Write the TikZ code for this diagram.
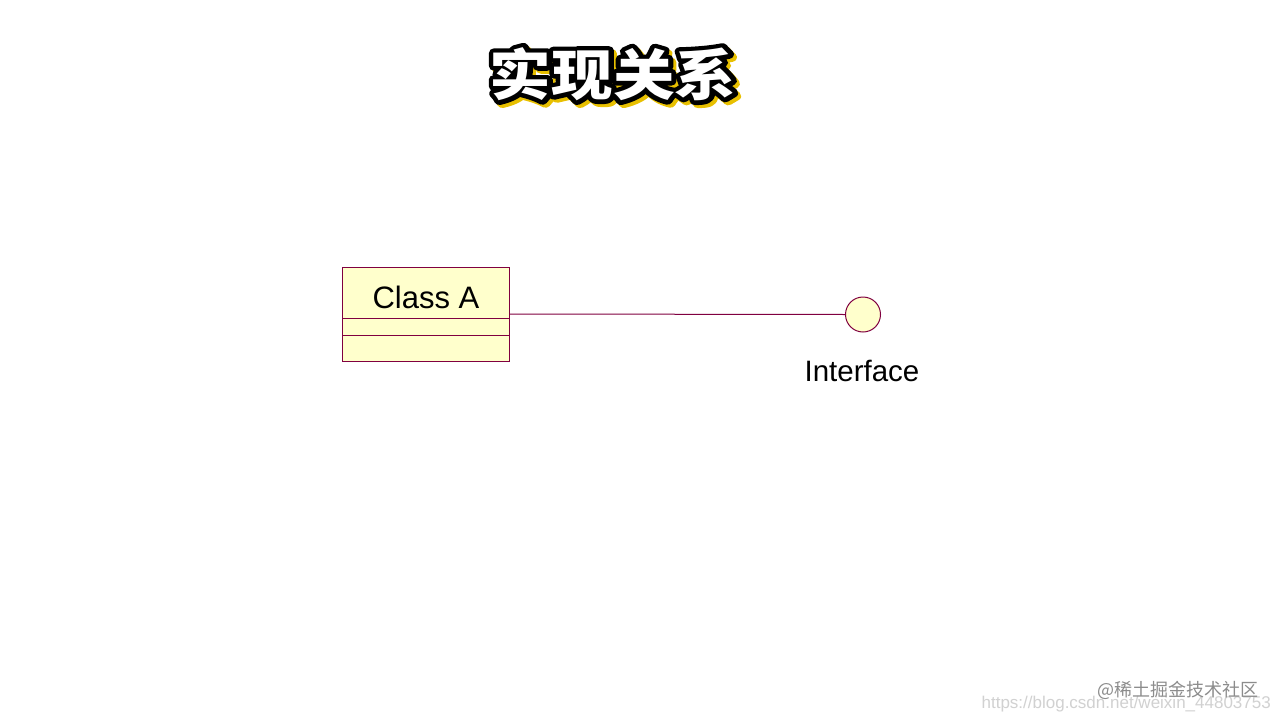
\documentclass[tikz,border=0pt]{standalone}
\usepackage{fontspec}
\setmainfont{Liberation Sans}
\newfontfamily\cjk{Noto Sans CJK SC}
\definecolor{umlborder}{HTML}{800040}
\definecolor{umlfill}{HTML}{FFFFCC}
\definecolor{shadowyellow}{HTML}{E8C000}
\newcommand\titlestr{实现关系}
\newcommand\strokeon[1]{\special{pdf:literal direct 2 Tr #1 w 1 j}}
\newcommand\strokeoff{\special{pdf:literal direct 0 Tr}}
\begin{document}
\begin{tikzpicture}[x=1pt,y=-1pt,
  umlline/.style={draw=umlborder,line width=1pt},
  titletext/.style={font=\cjk\bfseries\fontsize{55}{55}\selectfont,inner sep=0pt}]
\useasboundingbox[fill=white] (0,0) rectangle (1280,720);
% title: yellow shadow, black outline, white face
\node[titletext] (titleshadow) at (616,77) {\scalebox{1.12}[1]{\color{shadowyellow}\strokeon{9}\titlestr\strokeoff}};
\node[titletext] (titleoutline) at (613,74) {\scalebox{1.12}[1]{\color{black}\strokeon{9}\titlestr\strokeoff}};
\node[titletext] (title) at (613,74) {\scalebox{1.12}[1]{\color{white}\strokeoff\titlestr}};
% class box
\node[umlline,fill=umlfill,minimum width=167pt,minimum height=94pt,inner sep=0pt,anchor=north west] (classA) at (342,267) {};
\draw[umlline] (342,318) -- (509,318);
\draw[umlline] (342,335) -- (509,335);
\node[anchor=base,font=\fontsize{31}{31}\selectfont,inner sep=0pt] (classname) at (426,308) {Class A};
% interface
\node[circle,umlline,fill=umlfill,minimum size=35pt,inner sep=0pt] (iface) at (863,314.5) {};
\coordinate (lineStart) at (509,314);
\draw[umlline] (lineStart) -- (iface.west);
\node[anchor=base,font=\fontsize{29.5}{29.5}\selectfont,inner sep=0pt] (ifacelabel) at (862,381) {Interface};
% watermarks
\node[anchor=base east,text=black!18,font=\fontsize{17}{17}\selectfont,inner sep=0pt] (wm2) at (1271,708) {https://blog.csdn.net/weixin\_44803753};
\node[anchor=base east,text=black!45,font=\cjk\fontsize{18}{18}\selectfont,inner sep=0pt] (wm1) at (1259,696) {@稀土掘金技术社区};
\end{tikzpicture}
\end{document}
